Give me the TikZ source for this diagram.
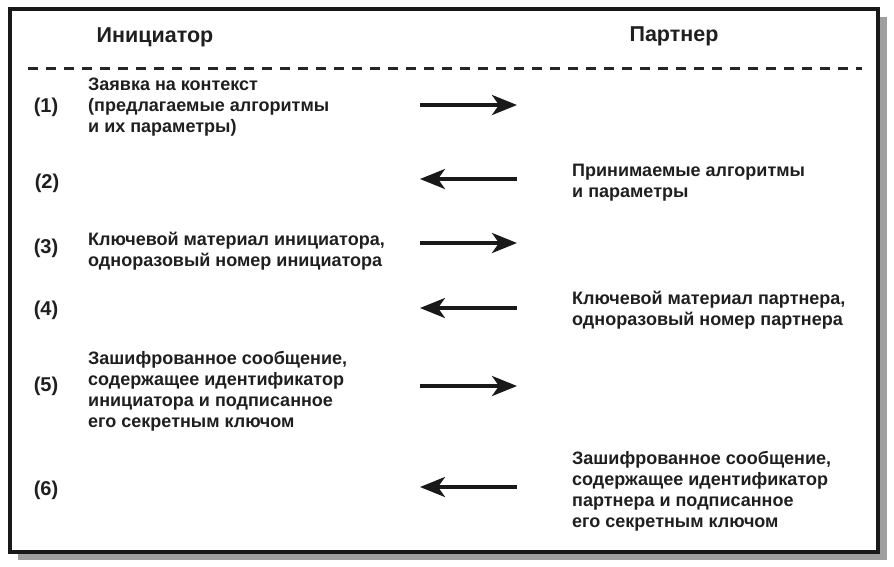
\documentclass[tikz,border=0pt]{standalone}
\usepackage{fontspec}
\setmainfont{Liberation Sans}
\usetikzlibrary{arrows.meta}
\tikzset{
  txt/.style={font=\fontsize{18}{21}\selectfont\bfseries, align=left, anchor=west, inner sep=0pt, text=black!88},
  num/.style={font=\fontsize{20}{22}\selectfont\bfseries, anchor=center, inner sep=0pt, text=black!88},
  head/.style={font=\fontsize{21.5}{24}\selectfont\bfseries, anchor=center, inner sep=0pt, text=black!88},
  msg/.style={line width=3.6pt, -{Stealth[length=25pt,width=20pt,inset=7pt]}, black!90},
}
\begin{document}
\begin{tikzpicture}[x=1pt,y=-1pt]
\useasboundingbox (0,0) rectangle (894,566);
% shadow and frame
\fill[gray!75] (18,17) rectangle (887,560);
\fill[white] (10,9) rectangle (878,552);
\draw[line width=4pt, black!90] (10,9) rectangle (878,552);
% headers
\node[head] (hi) at (155,37) {Инициатор};
\node[head] (hp) at (674,36) {Партнер};
\coordinate (dl) at (28,68);
\coordinate (dr) at (862,68);
\draw[line width=3pt, black!85, dash pattern=on 10pt off 8pt] (dl) -- (dr);
% numbers
\node[num] (n1) at (46,107) {(1)};
\node[num] (n2) at (47,183) {(2)};
\node[num] (n3) at (46,248) {(3)};
\node[num] (n4) at (46,310) {(4)};
\node[num] (n5) at (46,386) {(5)};
\node[num] (n6) at (46,490) {(6)};
% texts
\node[txt] (t1) at (88,107) {Заявка на контекст\\(предлагаемые алгоритмы\\и их параметры)};
\node[txt] (t2) at (572,183) {Принимаемые алгоритмы\\и параметры};
\node[txt] (t3) at (88,251) {Ключевой материал инициатора,\\одноразовый номер инициатора};
\node[txt] (t4) at (572,310) {Ключевой материал партнера,\\одноразовый номер партнера};
\node[txt] (t5) at (88,391) {Зашифрованное сообщение,\\содержащее идентификатор\\инициатора и подписанное\\его секретным ключом};
\node[txt] (t6) at (572,491) {Зашифрованное сообщение,\\содержащее идентификатор\\партнера и подписанное\\его секретным ключом};
% arrow endpoints
\coordinate (a1l) at (420,105); \coordinate (a1r) at (517,105);
\coordinate (a2l) at (420,179); \coordinate (a2r) at (517,179);
\coordinate (a3l) at (420,243); \coordinate (a3r) at (517,243);
\coordinate (a4l) at (420,308); \coordinate (a4r) at (517,308);
\coordinate (a5l) at (420,386); \coordinate (a5r) at (517,386);
\coordinate (a6l) at (420,487); \coordinate (a6r) at (517,487);
\draw[msg] (a1l) -- (a1r);
\draw[msg] (a2r) -- (a2l);
\draw[msg] (a3l) -- (a3r);
\draw[msg] (a4r) -- (a4l);
\draw[msg] (a5l) -- (a5r);
\draw[msg] (a6r) -- (a6l);
\end{tikzpicture}
\end{document}
